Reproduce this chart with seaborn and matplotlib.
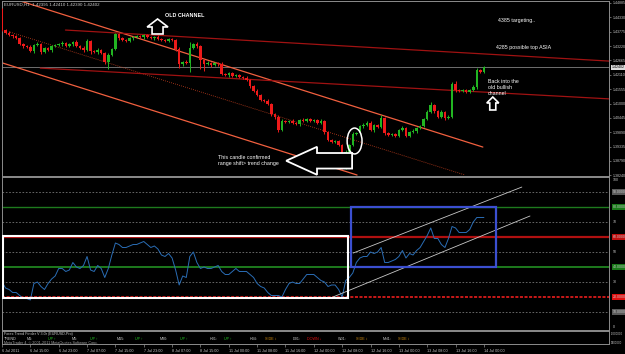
import numpy as np
import pandas as pd
import matplotlib
matplotlib.use('agg')
import matplotlib.pyplot as plt
import seaborn as sns
from matplotlib import patches, transforms

# EURUSD H1, one entry per bar (weekend skipped)
first_open = 1.4465
closes = [1.4384, 1.4373, 1.4365, 1.4361, 1.4353, 1.4330, 1.4322, 1.4319, 1.4303, 1.4326,
          1.4330, 1.4299, 1.4315, 1.4307, 1.4322, 1.4326, 1.4330, 1.4334, 1.4322, 1.4330,
          1.4338, 1.4322, 1.4315, 1.4307, 1.4342, 1.4303, 1.4299, 1.4307, 1.4295, 1.4261,
          1.4288, 1.4311, 1.4369, 1.4353, 1.4346, 1.4342, 1.4353, 1.4357, 1.4361, 1.4357,
          1.4365, 1.4357, 1.4353, 1.4357, 1.4349, 1.4346, 1.4342, 1.4349, 1.4346, 1.4311,
          1.4253, 1.4261, 1.4257, 1.4315, 1.4330, 1.4322, 1.4268, 1.4253, 1.4257, 1.4249,
          1.4257, 1.4253, 1.4214, 1.4210, 1.4218, 1.4207, 1.4210, 1.4203, 1.4199, 1.4191,
          1.4168, 1.4149, 1.4133, 1.4114, 1.4110, 1.4098, 1.4060, 1.4048, 1.3998, 1.4033,
          1.4029, 1.4033, 1.4025, 1.4021, 1.4037, 1.4033, 1.4040, 1.4033, 1.4037, 1.4025,
          1.4033, 1.3990, 1.3959, 1.3952, 1.3955, 1.3940, 1.3855, 1.3913, 1.3940, 1.3982,
          1.3986, 1.4013, 1.4017, 1.4025, 1.3998, 1.4017, 1.4009, 1.4044, 1.3986, 1.3979,
          1.3982, 1.3975, 1.3998, 1.4006, 1.3975, 1.3990,
          1.3994, 1.4006, 1.4013, 1.4040, 1.4067, 1.4094, 1.4071, 1.4048, 1.4067, 1.4044,
          1.4048, 1.4176, 1.4152, 1.4149, 1.4152, 1.4145, 1.4152, 1.4164, 1.4230, 1.4222, 1.42402]
# wick lengths in pips above / below the body
wick_hi = [5, 4, 6, 5, 3, 6, 4, 5, 7, 5, 6, 4, 5, 3, 6, 5, 4, 6, 5, 4,
           5, 6, 4, 7, 8, 5, 4, 6, 5, 4, 6, 5, 3, 4, 5, 4, 6, 3, 4, 5,
           4, 5, 3, 4, 6, 4, 5, 3, 4, 5, 6, 5, 7, 21, 5, 6, 4, 5, 6, 4,
           5, 4, 6, 5, 4, 5, 3, 4, 5, 6, 5, 4, 6, 5, 4, 6, 5, 4, 7, 6,
           5, 4, 6, 5, 4, 7, 5, 6, 4, 5, 6, 5, 4, 5, 6, 5, 4, 6, 5, 7,
           6, 5, 7, 6, 8, 5, 6, 13, 6, 5, 4, 6, 5, 6, 4, 5, 6, 5, 4, 6,
           7, 13, 6, 5, 7, 5, 6, 8, 10, 5, 4, 6, 5, 7, 6, 5, 4]
wick_lo = [4, 5, 4, 6, 5, 4, 6, 5, 4, 6, 5, 6, 4, 5, 6, 4, 5, 6, 4, 5,
           6, 4, 5, 6, 4, 13, 5, 6, 4, 7, 26, 5, 4, 6, 5, 4, 5, 6, 4, 5,
           6, 4, 5, 6, 4, 5, 6, 4, 5, 7, 16, 6, 5, 36, 4, 6, 34, 28, 5, 6,
           4, 6, 5, 4, 6, 5, 4, 6, 5, 4, 6, 5, 4, 6, 5, 4, 7, 6, 8, 5,
           4, 6, 5, 4, 6, 5, 4, 6, 5, 4, 5, 6, 4, 5, 6, 4, 8, 6, 5, 4,
           5, 4, 6, 5, 4, 6, 5, 4, 6, 5, 4, 6, 5, 4, 6, 5, 4, 6, 5, 4,
           5, 4, 6, 5, 4, 6, 5, 4, 6, 5, 4, 6, 5, 4, 6, 5, 3]
rsi = [30, 26, 25, 23, 23, 21, 19, 19, 18, 29, 30, 27, 25, 29, 32, 34, 39, 39, 37, 38,
       43, 40, 39, 41, 47, 38, 37, 41, 39, 33, 39, 48, 56, 55, 53, 53, 54, 55, 55, 56,
       57, 55, 53, 54, 52, 48, 47, 49, 46, 38, 28, 34, 33, 47, 50, 43, 39, 40, 39, 39,
       40, 41, 37, 35, 35, 37, 39, 37, 37, 37, 35, 33, 29, 27, 26, 23, 21, 21, 21, 20,
       25, 29, 30, 29, 29, 32, 35, 35, 35, 33, 31, 30, 27, 28, 28, 25, 20, 31, 33, 36,
       43, 46, 47, 47, 50, 49, 50, 53, 43, 43, 44, 45, 47, 51, 46, 49,
       48, 51, 53, 57, 61, 66, 59, 59, 55, 53, 59, 67, 66, 63, 63, 63, 65, 70, 73, 73, 73]

date_ticks = list(range(0, 137, 8))
date_labels = ["6 Jul 2011", "6 Jul 15:00", "6 Jul 23:00", "7 Jul 07:00", "7 Jul 15:00",
               "7 Jul 23:00", "8 Jul 07:00", "8 Jul 15:00", "11 Jul 00:00", "11 Jul 08:00",
               "11 Jul 16:00", "12 Jul 00:00", "12 Jul 08:00", "12 Jul 16:00", "13 Jul 00:00",
               "13 Jul 08:00", "13 Jul 16:00", "14 Jul 00:00"]
price_ticks = [1.38240, 1.38790, 1.39335, 1.39890, 1.40445, 1.41000, 1.41555,
               1.42110, 1.42665, 1.43220, 1.43775, 1.44330, 1.44885]
ind_levels = [100, 90, 80, 70, 60, 50, 40, 30, 20, 10, 0]
ind_labels = ["100", "90.0000", "80.0000", "70", "60.0000", "50", "40.0000", "30", "20.0000", "10.0000", "0"]
tf_frames = ["M1:", "M5:", "M15:", "M30:", "H01:", "H04:", "D01:", "W01:", "MN1:"]
tf_states = ["UP", "UP", "UP", "UP", "UP", "SIDE", "DOWN", "SIDE", "SIDE"]

# hand drawn lines (bar, price) / (bar, indicator value)
trend_upper = [(4.3, 1.4500), (135.7, 1.3932)]
trend_lower = [(0.1, 1.4257), (100.2, 1.3824)]
trend_mid = [(2.3, 1.4376), (130.7, 1.3824)]
old_top = [(17.9, 1.4384), (171.5, 1.4264)]
old_bottom = [(10.8, 1.4237), (171.5, 1.4118)]
ind_chan_up = [(99.1, 49.3), (146.7, 93.3)]
ind_chan_lo = [(93.4, 20.0), (149.0, 74.0)]

GREEN = '#22b522'
RED = '#ee1a1a'
GRAY = '#8c8c8c'
TXT = '#c8c8c8'

sns.set_theme(style="dark", rc={"axes.facecolor": "black", "figure.facecolor": "black",
                                "axes.edgecolor": GRAY, "axes.grid": False})
plt.rcParams['font.family'] = ['Liberation Sans', 'DejaVu Sans']

W, H = 625, 354
fig = plt.figure(figsize=(W / 100, H / 100), dpi=100)


def px_rect(top, bottom, left=2, right=609):
    return [left / W, 1 - bottom / H, (right - left) / W, (bottom - top) / H]


ax = fig.add_axes(px_rect(1, 176))
ax_ind = fig.add_axes(px_rect(177, 330), sharex=ax)
ax_tf = fig.add_axes(px_rect(331, 344), sharex=ax)
for a in (ax, ax_ind, ax_tf):
    a.set_facecolor('black')
    for s in a.spines.values():
        s.set_color(GRAY)
        s.set_linewidth(0.7)

# ---- candles ----
df = pd.DataFrame({"close": closes, "wick_hi": wick_hi, "wick_lo": wick_lo})
df["open"] = [first_open] + closes[:-1]
df["top"] = df[["open", "close"]].max(axis=1)
df["bot"] = df[["open", "close"]].min(axis=1)
df["high"] = df["top"] + df["wick_hi"] * 1e-4
df["low"] = df["bot"] - df["wick_lo"] * 1e-4
cols = np.where(df["close"] >= df["open"], GREEN, RED)
ax.vlines(df.index, df["low"], df["high"], colors=cols, lw=0.7, zorder=3)
ax.bar(df.index, np.maximum(df["top"] - df["bot"], 0.00008), bottom=df["bot"],
       width=0.72, color=cols, linewidth=0, zorder=4)

for line, c, lw, ls in [(trend_upper, '#f2603f', 0.9, '-'), (trend_lower, '#f2603f', 0.9, '-'),
                        (trend_mid, '#c8401f', 0.6, (0, (1, 1.5))),
                        (old_top, '#a01212', 0.9, '-'), (old_bottom, '#a01212', 0.9, '-')]:
    xs, ys = zip(*line)
    ax.plot(xs, ys, color=c, lw=lw, ls=ls, zorder=2)

ax.axhline(closes[-1], color='#808080', lw=0.6, zorder=1)
ax.set_xlim(0.08, 171.3)
ax.set_ylim(1.38202, 1.44962)
ax.yaxis.tick_right()
ax.set_yticks(price_ticks)
ax.set_yticklabels([f"{p:.5f}" for p in price_ticks])
ax.tick_params(axis='y', labelsize=2.6, labelcolor=TXT, color=GRAY, length=1.5, pad=1, width=0.5)
ax.tick_params(axis='x', bottom=False, labelbottom=False)
ax.set_ylabel('')

ytr = transforms.blended_transform_factory(ax.transAxes, ax.transData)
ax.text(1.004, closes[-1], f"{closes[-1]:.5f}", transform=ytr, fontsize=2.6, color='black',
        va='center', ha='left', bbox=dict(boxstyle='square,pad=0.15', fc='#dcdcdc', ec='none'))
ax.text(0.003, 0.977, "EURUSD,H1  1.42395 1.42410 1.42390 1.42402", transform=ax.transAxes,
        fontsize=3.2, color='#d0d0d0', va='center', ha='left')

# annotations
ax.text(46.1, 1.44383, "OLD CHANNEL", fontsize=3.9, color='white', fontweight='bold', va='center')
ax.text(139.9, 1.44190, "4385 targeting..", fontsize=3.8, color='white', va='center')
ax.text(139.4, 1.43185, "4285 possible top ASIA", fontsize=3.8, color='white', va='center')
ax.text(137.1, 1.41960, "Back into the\nold bullish\nchannel", fontsize=3.8, color='white',
        va='top', linespacing=1.25)
ax.text(61.0, 1.38807, "This candle confirmed\nrange shift> trend change", fontsize=3.8,
        color='white', va='center', linespacing=1.25)
ax.add_patch(patches.FancyArrow(43.9, 1.43688, 0, 0.005795, width=3.1, head_width=5.9,
                                head_length=0.00309, length_includes_head=True,
                                fc='black', ec='white', lw=1.2, zorder=6))
ax.add_patch(patches.FancyArrow(138.5, 1.40752, 0, 0.00502, width=1.7, head_width=3.4,
                                head_length=0.00232, length_includes_head=True,
                                fc='black', ec='white', lw=1.2, zorder=6))
ax.add_patch(patches.FancyArrow(98.8, 1.38790, -18.6, 0, width=0.0060, head_width=0.0108,
                                head_length=8.7, length_includes_head=True,
                                fc='black', ec='white', lw=1.3, zorder=6))
ax.add_patch(patches.Ellipse((99.5, 1.39554), 4.2, 0.0100, fill=False, ec='white', lw=1.1, zorder=6))

# ---- indicator ----
for lvl in [90, 70, 50, 30, 10]:
    ax_ind.axhline(lvl, color='#767676', lw=0.6, ls=(0, (2, 2)))
ax_ind.axhline(80, color='#1d7a1d', lw=1.0)
ax_ind.axhline(40, color='#1d7a1d', lw=1.4)
ax_ind.axhline(60, color='#b01010', lw=1.6)
ax_ind.axhline(20, color='#ff2020', lw=1.1, ls=(0, (2, 1)))
sns.lineplot(x=np.arange(len(rsi)), y=rsi, ax=ax_ind, color='#2a6db5', lw=0.7, zorder=3)
ax_ind.add_patch(patches.Rectangle((0.37, 19.3), 97.3, 41.4, fill=False, ec='white', lw=1.5, zorder=5))
ax_ind.add_patch(patches.Rectangle((98.5, 40), 40.9, 40, fill=False, ec='#3b4fd0', lw=1.6, zorder=5))
for line in (ind_chan_up, ind_chan_lo):
    xs, ys = zip(*line)
    ax_ind.plot(xs, ys, color='#c8c8c8', lw=0.6, zorder=4)
ax_ind.set_ylim(-2, 100)
ax_ind.set_yticks([])
ax_ind.set_ylabel('')
ax_ind.tick_params(axis='x', bottom=False, labelbottom=False)
itr = transforms.blended_transform_factory(ax_ind.transAxes, ax_ind.transData)
box_col = {"90.0000": '#5a5a5a', "10.0000": '#5a5a5a', "80.0000": '#1a7a1a', "40.0000": '#1a7a1a',
           "60.0000": '#c01010', "20.0000": '#e01010'}
for lvl, lab in zip(ind_levels, ind_labels):
    yv = 98.3 if lvl == 100 else lvl
    kw = {}
    if lab in box_col:
        kw['bbox'] = dict(boxstyle='square,pad=0.15', fc=box_col[lab], ec='none')
    ax_ind.text(1.006, yv, lab, transform=itr, fontsize=2.5, color=TXT, va='center', ha='left', **kw)

# ---- trend finder strip ----
ax_tf.set_ylim(0, 1)
ax_tf.set_yticks([])
ttr = transforms.blended_transform_factory(ax_tf.transData, ax_tf.transAxes)
ax_tf.text(0.65, 0.78, "Forex Trend Finder V 3.0r (EURUSD-Pro)", transform=ttr, fontsize=2.7, color=TXT, va='center')
ax_tf.text(0.65, 0.36, "TREND", transform=ttr, fontsize=2.7, color=TXT, va='center')
ax_tf.text(0.65, 0.10, "MetaTrader 4, \u00a9 2001-2011 MetaQuotes Software Corp.", transform=ttr,
           fontsize=2.7, color='#a0a0a0', va='center')
frame_x = [6.9, 19.8, 32.5, 44.6, 58.7, 70.0, 82.1, 94.8, 107.5]
state_x = [13.1, 24.9, 37.6, 50.3, 62.7, 74.3, 86.1, 99.9, 111.8]
state_style = {"UP": ("UP \u2191", '#22c422'), "SIDE": ("SIDE \u2195", '#d08a10'),
               "DOWN": ("DOWN \u2193", '#e01010')}
for fx, sx, fr, st in zip(frame_x, state_x, tf_frames, tf_states):
    ax_tf.text(fx, 0.36, fr, transform=ttr, fontsize=2.7, color=TXT, va='center')
    lab, c = state_style[st]
    ax_tf.text(sx, 0.36, lab, transform=ttr, fontsize=2.7, color=c, va='center')
ax_tf.text(1.003, 0.8, "-9000000", transform=ax_tf.transAxes, fontsize=2.0, color=TXT, va='center')
ax_tf.text(1.003, 0.05, "9000000", transform=ax_tf.transAxes, fontsize=2.0, color=TXT, va='center')

ax_tf.set_xticks(date_ticks)
ax_tf.set_xticklabels(date_labels, fontsize=2.7, color=TXT, ha='left')
ax_tf.tick_params(axis='x', length=2, pad=1.5, color=GRAY, width=0.5, bottom=True)

fig.savefig('out.png', dpi=100, facecolor='black')
